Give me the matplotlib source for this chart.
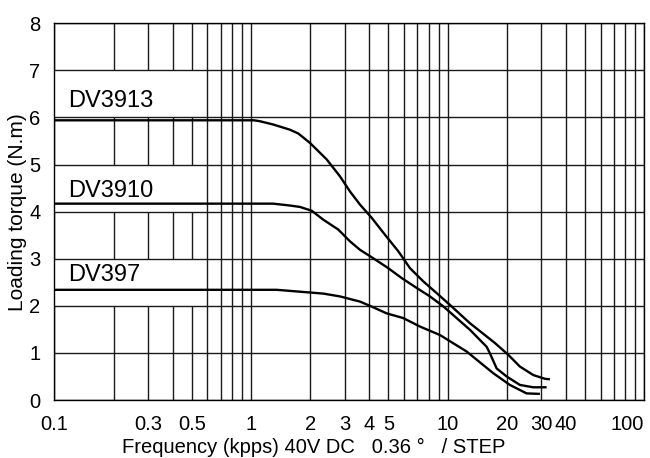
import matplotlib
matplotlib.use("Agg")
import matplotlib.pyplot as plt
from matplotlib.patches import Rectangle

plt.rcParams['font.family'] = ['Liberation Sans', 'DejaVu Sans']

# ---- data ----
dv3913_x = [0.1, 1.036, 1.111, 1.299, 1.579, 1.740, 1.995, 2.426, 2.835, 3.186, 3.583,
            4.108, 4.800, 5.609, 6.433, 7.516, 8.794, 10.27, 12.99, 17.40, 20.33,
            23.31, 27.25, 31.24, 33.12]
dv3913_y = [5.94, 5.94, 5.92, 5.85, 5.74, 5.66, 5.46, 5.11, 4.75, 4.43, 4.15,
            3.87, 3.51, 3.16, 2.80, 2.52, 2.27, 2.02, 1.63, 1.21, 0.96,
            0.71, 0.53, 0.45, 0.44]

dv3910_x = [0.1, 1.296, 1.579, 1.775, 2.035, 2.331, 2.779, 3.186, 3.583, 4.186, 4.989,
            5.837, 6.958, 8.128, 9.497, 12.99, 15.79, 16.41, 17.75, 19.95, 23.31,
            27.25, 31.86]
dv3910_y = [4.17, 4.17, 4.13, 4.10, 4.02, 3.83, 3.62, 3.37, 3.19, 3.01, 2.80,
            2.59, 2.38, 2.20, 1.99, 1.49, 1.13, 0.99, 0.67, 0.50, 0.32,
            0.27, 0.27]

dv397_x = [0.1, 1.351, 1.775, 2.331, 2.835, 3.583, 4.027, 4.897, 5.946, 7.232, 9.139,
           12.49, 17.05, 20.73, 25.21, 29.46]
dv397_y = [2.34, 2.34, 2.30, 2.26, 2.20, 2.09, 2.00, 1.84, 1.74, 1.56, 1.38,
           1.03, 0.57, 0.32, 0.14, 0.13]

series_names = ['DV3913', 'DV3910', 'DV397']
label_x = [0.118, 0.118, 0.118]
label_y = [6.23, 4.32, 2.52]
label_band = [(6, 7), (4, 5), (2, 3)]

x_ticks = [0.1, 0.3, 0.5, 1, 2, 3, 4, 5, 10, 20, 30, 40, 100]
x_ticklabels = ['0.1', '0.3', '0.5', '1', '2', '3', '4', '5', '10', '20', '30', '40', '100']
y_ticks = [0, 1, 2, 3, 4, 5, 6, 7, 8]

# ---- figure ----
fig = plt.figure(figsize=(6.5, 4.58), dpi=100)
ax = fig.add_axes([54.3 / 650, 58 / 458, 590 / 650, 376.7 / 458])
ax.set_xscale('log')
ax.set_xlim(0.1, 100)
ax.set_ylim(0, 8)

grid_color = '#1a1a1a'
# vertical grid lines at every log subdivision
vgrid = []
for dec in [0.1, 1, 10]:
    for k in range(1, 10):
        vgrid.append(dec * k)
vgrid.append(100)
ax.vlines(vgrid, 0, 8, colors=grid_color, linewidth=1.0, zorder=1)

# white label boxes covering vertical grid
for (y0, y1) in label_band:
    ax.add_patch(Rectangle((0.1, y0), 0.55 - 0.1, y1 - y0, facecolor='white',
                           edgecolor='none', zorder=1.5))

# horizontal grid lines
for yv in y_ticks:
    ax.axhline(yv, color=grid_color, linewidth=1.0, zorder=2)

for xs, ys in [(dv3913_x, dv3913_y), (dv3910_x, dv3910_y), (dv397_x, dv397_y)]:
    ax.plot(xs, ys, color='black', linewidth=1.7, zorder=3, solid_capstyle='butt')

for name, lx, ly in zip(series_names, label_x, label_y):
    ax.text(lx, ly, name, fontsize=17, ha='left', va='baseline', zorder=4)

ax.set_xticks(x_ticks)
ax.set_xticklabels(x_ticklabels)
ax.xaxis.set_minor_locator(matplotlib.ticker.NullLocator())
ax.set_yticks(y_ticks)
ax.tick_params(axis='both', length=0, labelsize=14.5)
ax.tick_params(axis='x', pad=11)
ax.tick_params(axis='y', pad=10)
last = ax.get_xticklabels()[-1]
last.set_horizontalalignment('right')

for s in ax.spines.values():
    s.set_color('black')
    s.set_linewidth(1.0)

ax.set_ylabel('Loading torque (N.m)', fontsize=15)
ax.yaxis.set_label_coords(-0.047, 0.5)
ax.set_xlabel('Frequency (kpps) 40V DC   0.36 °   / STEP', fontsize=14.5)
ax.xaxis.set_label_coords((314 - 54.3) / 590, -0.1)

fig.savefig('out.png', dpi=100)
